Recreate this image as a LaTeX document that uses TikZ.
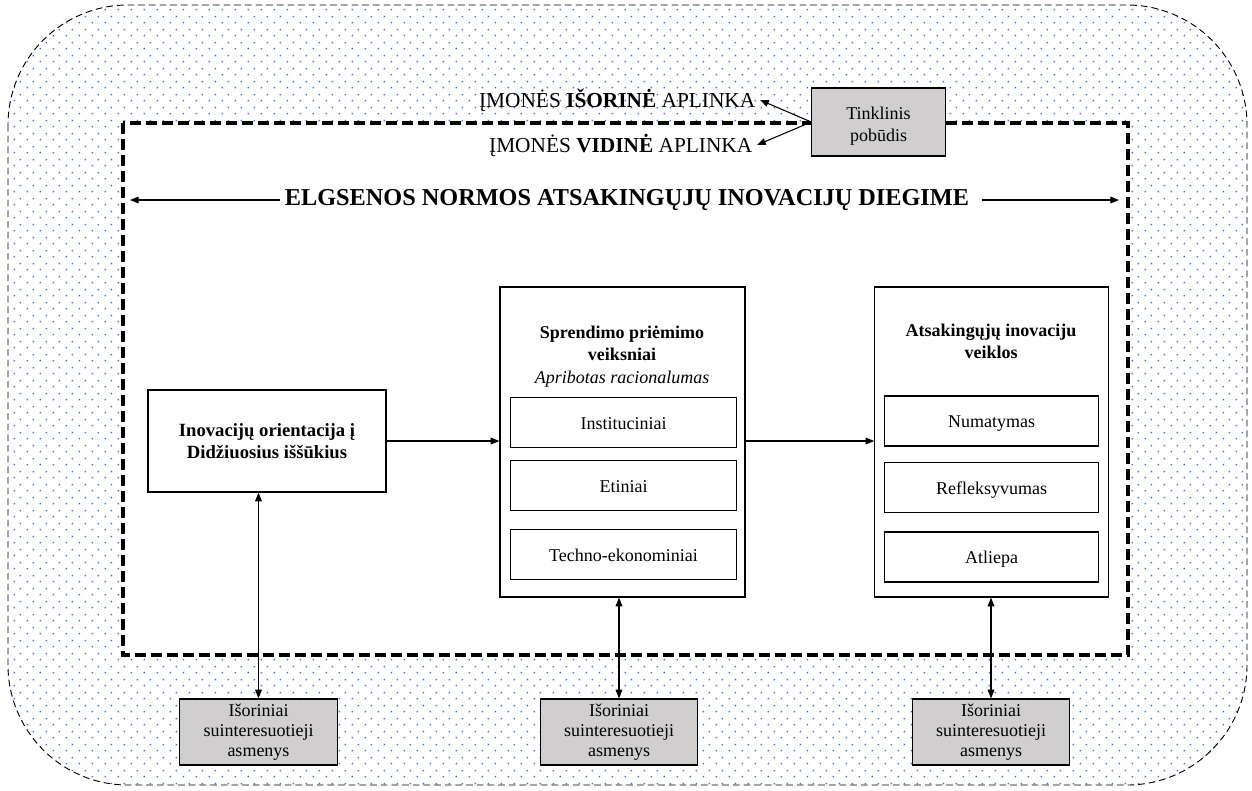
\documentclass[tikz,border=0pt]{standalone}
\usepackage{fontspec}
\setmainfont{Liberation Serif}
\usetikzlibrary{patterns,arrows.meta}

\definecolor{dotblue}{HTML}{4472C4}
\definecolor{boxgray}{HTML}{D0CECE}

\pgfdeclarepatternformonly{bluedots}{\pgfqpoint{0pt}{0pt}}{\pgfqpoint{9.75pt}{9.75pt}}{\pgfqpoint{9.75pt}{9.75pt}}{%
  \pgfpathrectangle{\pgfqpoint{0.5pt}{0.5pt}}{\pgfqpoint{1.2pt}{1.2pt}}
  \pgfpathrectangle{\pgfqpoint{5.375pt}{5.375pt}}{\pgfqpoint{1.2pt}{1.2pt}}
  \pgfusepath{fill}}

\begin{document}
\begin{tikzpicture}[x=0.75pt,y=-0.75pt,
    >={Triangle[length=6.5pt,width=5pt]},
    font=\fontsize{13.5}{15}\selectfont,
    box/.style={draw, line width=0.9pt, fill=white, align=center, inner sep=0pt},
    subbox/.style={box, text height=1.1em, text depth=0.1em},
    graybox/.style={draw, line width=0.9pt, fill=boxgray, align=center, inner sep=0pt},
    flow/.style={->, line width=0.8pt}]
    \useasboundingbox (0,0) rectangle (1252,790);

    % Išorinė aplinka
    \draw[dash pattern=on 5pt off 3pt, line width=0.7pt, pattern=bluedots, pattern color=dotblue, rounded corners=90pt] (8,5) rectangle (1247,785);

    % Vidinė aplinka
    \draw[line width=3pt, dash pattern=on 8.25pt off 3.75pt, fill=white] (123,123) rectangle (1128,655);

    % Aplinkos užrašai
    \node[anchor=east, font=\fontsize{16}{18}\selectfont] (isor) at (760,100) {ĮMONĖS \textbf{IŠORINĖ} APLINKA};
    \node[anchor=east, font=\fontsize{16}{18}\selectfont] (vid) at (757,145) {ĮMONĖS \textbf{VIDINĖ} APLINKA};
    \node[graybox, minimum width=100pt, minimum height=51pt] (tink) at (878.5,122) {};
    \node[align=center, font=\fontsize{13.5}{16.5}\selectfont] (tinkt) at (878.5,126) {Tinklinis\\pobūdis};

    \draw[flow] (tink.west) -- (isor.east);
    \draw[flow] (tink.west) -- (vid.east);

    % Antraštė
    \node[font=\fontsize{18.2}{20}\selectfont\bfseries] (norm) at (627,200) {ELGSENOS NORMOS ATSAKINGŲJŲ INOVACIJŲ DIEGIME};
    \coordinate (nl) at (130,200);
    \coordinate (nr) at (1119,200);
    \draw[flow] (norm.west) -- (nl);
    \draw[flow] ([xshift=6pt]norm.east) -- (nr);

    % Orientacija
    \node[box, minimum width=178.5pt, minimum height=76.5pt, font=\fontsize{14}{16.5}\selectfont\bfseries] (orient) at (267,441) {Inovacijų orientacija į\\Didžiuosius iššūkius};

    % Sprendimo priėmimo veiksniai
    \node[box, minimum width=183.75pt, minimum height=232.5pt] (spr) at (622.5,442) {};
    \node[font=\fontsize{13.5}{16.5}\selectfont\bfseries, align=center] (sprt) at (622,343) {Sprendimo priėmimo\\veiksniai};
    \node[font=\fontsize{13.5}{16.5}\selectfont\itshape] (sprr) at (622,379) {Apribotas racionalumas};
    \node[subbox, minimum width=170pt, minimum height=37pt] (inst) at (623.5,422.5) {Instituciniai};
    \node[subbox, minimum width=170pt, minimum height=37pt] (etin) at (623.5,485.5) {Etiniai};
    \node[subbox, minimum width=170pt, minimum height=37pt] (tech) at (623.5,554.5) {Techno-ekonominiai};

    % Atsakingųjų inovacijų veiklos
    \node[box, minimum width=175pt, minimum height=232.5pt] (veik) at (991.5,442) {};
    \node[font=\fontsize{13.5}{16.5}\selectfont\bfseries, align=center] (veikt) at (991,341) {Atsakingųjų inovaciju\\veiklos};
    \node[subbox, minimum width=160pt, minimum height=37.5pt] (numa) at (991.5,421) {Numatymas};
    \node[subbox, minimum width=160pt, minimum height=37.5pt] (refl) at (991.5,487.5) {Refleksyvumas};
    \node[subbox, minimum width=160pt, minimum height=37.5pt] (atli) at (991.5,557) {Atliepa};

    \draw[flow] (orient.east) -- (orient.east -| spr.west);
    \draw[flow] (orient.east -| spr.east) -- (orient.east -| veik.west);

    % Suinteresuotieji asmenys
    \node[graybox, minimum width=118pt, minimum height=49.5pt] (sa1) at (258.5,732) {Išoriniai\\suinteresuotieji\\asmenys};
    \node[graybox, minimum width=118pt, minimum height=49.5pt] (sa2) at (619,732) {Išoriniai\\suinteresuotieji\\asmenys};
    \node[graybox, minimum width=118pt, minimum height=49.5pt] (sa3) at (991,732) {Išoriniai\\suinteresuotieji\\asmenys};

    \draw[flow, <->] (sa1.north) -- (sa1.north |- orient.south);
    \draw[flow, <->] (sa2.north) -- (sa2.north |- spr.south);
    \draw[flow, <->] (sa3.north) -- (sa3.north |- veik.south);
\end{tikzpicture}
\end{document}
